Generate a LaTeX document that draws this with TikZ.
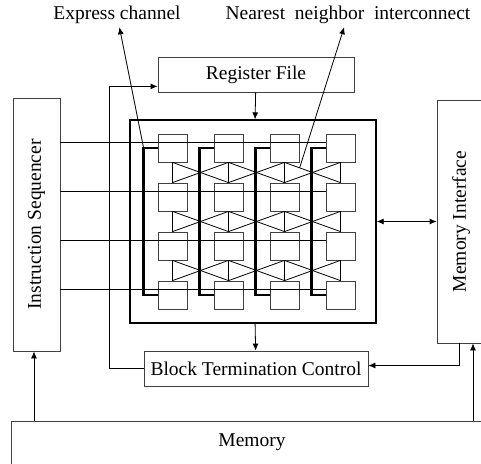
\documentclass[tikz,border=0pt]{standalone}
\usepackage{fontspec}
\setmainfont{Liberation Serif}
\usetikzlibrary{positioning,calc,arrows.meta}

\begin{document}
\begin{tikzpicture}[
    x=1pt,y=-1pt,
    font=\fontsize{19.5}{22}\selectfont,line width=0.8pt,
    >={Latex[length=7pt,width=6pt]},
    blk/.style={draw=black!75,inner sep=0pt},
    pe/.style={draw=black!75,minimum width=29,minimum height=28,inner sep=0pt},
    express/.style={line width=2.6pt,line join=miter}
]
\useasboundingbox (0,0) rectangle (481,463);

\node[blk,minimum width=196,minimum height=35] (regfile) at (256,74.5) {Register File};
\node[blk,minimum width=47,minimum height=253] (seq) at (36.5,224.5)
    {\rotatebox{90}{Instruction Sequencer}};
\node[blk,minimum width=48,minimum height=243] (memif) at (461,221.5)
    {\rotatebox{90}{Memory Interface}};
\node[blk,minimum width=224,minimum height=35] (btc) at (256,368.5) {Block Termination Control};
\node[blk,minimum width=482,minimum height=43] (mem) at (252,442.5) {Memory};
\node[draw,line width=1.3pt,minimum width=246,minimum height=203] (array) at (253,221.5) {};

% processing elements
\foreach \r/\y in {1/148,2/197,3/246,4/295}
    \foreach \c/\x in {1/172.5,2/228.5,3/284.5,4/340.5}
        \node[pe] (pe-\r-\c) at (\x,\y) {};

% instruction buses
\foreach \r in {1,...,4} {
    \path ($(pe-\r-1.center)+(0,-6)$) coordinate (bus-\r);
    \draw (seq.east |- bus-\r) -- (pe-\r-4.west |- bus-\r);
}

% express channels
\foreach \c in {1,...,4}
    \draw[express] (pe-1-\c.west) -- ++(-14,0) |- (pe-4-\c.west);

% nearest neighbor links
\foreach \r [evaluate=\r as \s using int(\r+1)] in {1,2,3} {
    \foreach \c in {1,...,4}
        \draw (pe-\r-\c.south) -- (pe-\s-\c.north);
    \foreach \c [evaluate=\c as \d using int(\c+1)] in {1,2,3} {
        \draw (pe-\r-\c.south) -- (pe-\s-\d.north);
        \draw (pe-\s-\c.north) -- (pe-\r-\d.south);
    }
}

\coordinate (rfin) at ($(regfile.south west)+(0,-6)$);
\coordinate (mitap) at ([xshift=12pt]memif.south);
\coordinate (istap) at ([xshift=-2.5pt]seq.south);

\draw[->] (regfile) -- (array);
\draw[->] (array) -- (btc);
\draw[<->] (array.east) -- (memif.west);
\draw[->] (btc.west) -- ++(-34,0) |- (rfin);
\draw[->] ([xshift=-2pt]memif.south) |- ([yshift=3pt]btc.east);
\draw[->] (mem.north -| mitap) -- (mitap);
\draw[->] (mem.north -| istap) -- (istap);

% labels
\node[inner sep=3pt] (exlabel) at (117,15) {Express channel};
\node[inner sep=3pt] (nnlabel) at (348,15) {Nearest~~neighbor~~interconnect};
\coordinate (excorner) at ($(pe-1-1.west)+(-14,0)$);
\coordinate (nnlink) at ($(pe-1-3.south)!0.27!(pe-2-4.north)$);
\draw[->] (excorner) -- (exlabel);
\draw[->] (nnlink) -- (nnlabel);

\end{tikzpicture}
\end{document}
